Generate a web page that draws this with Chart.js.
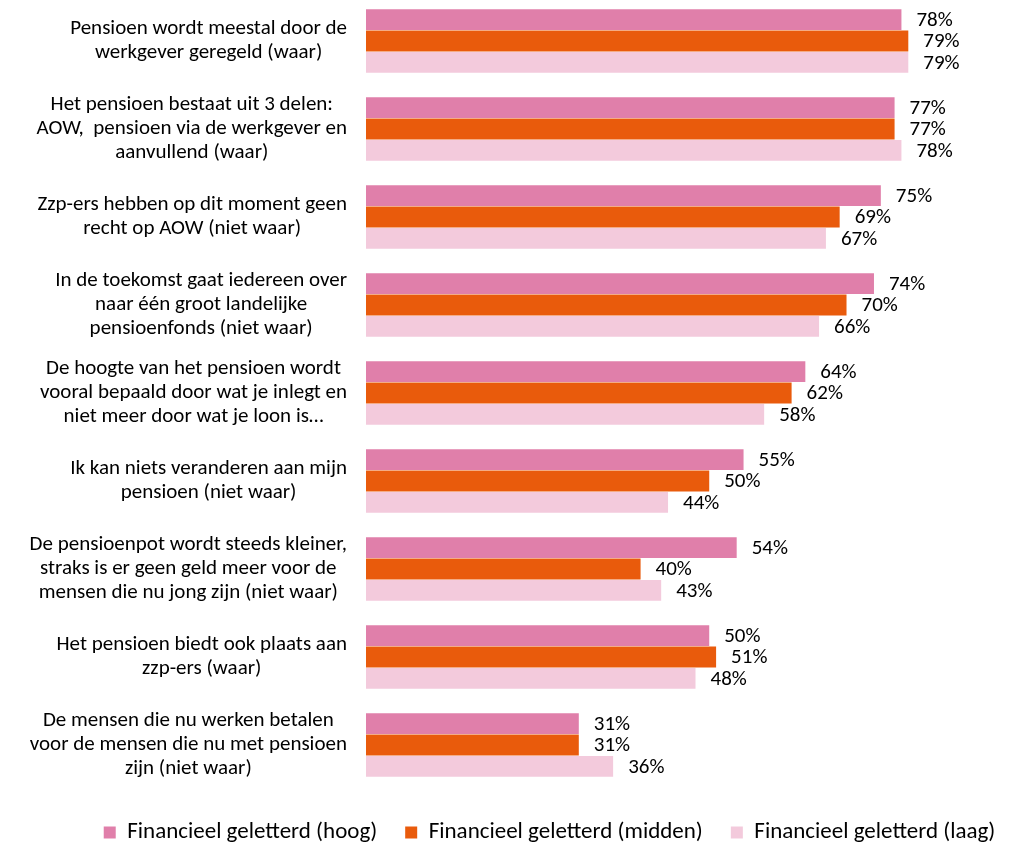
<!DOCTYPE html>
<html>
<head>
<meta charset="utf-8">
<script src="https://cdn.jsdelivr.net/npm/chart.js@4/dist/chart.umd.min.js"></script>
<style>
  html, body { margin: 0; padding: 0; background: #fff; overflow: hidden; }
  #wrap { width: 1025px; height: 857px; position: relative; margin-top: -3px; }
</style>
</head>
<body>
<div id="wrap"><canvas id="chart"></canvas></div>
<script>
// Stellingen (categorieën)
const categories = [
    ['Pensioen wordt meestal door de', 'werkgever geregeld (waar)'],
    ['Het pensioen bestaat uit 3 delen:', 'AOW,  pensioen via de werkgever en', 'aanvullend (waar)'],
    ['Zzp-ers hebben op dit moment geen', 'recht op AOW (niet waar)'],
    ['In de toekomst gaat iedereen over', 'naar één groot landelijke', 'pensioenfonds (niet waar)'],
    ['De hoogte van het pensioen wordt', 'vooral bepaald door wat je inlegt en', 'niet meer door wat je loon is…'],
    ['Ik kan niets veranderen aan mijn', 'pensioen (niet waar)'],
    ['De pensioenpot wordt steeds kleiner,', 'straks is er geen geld meer voor de', 'mensen die nu jong zijn (niet waar)'],
    ['Het pensioen biedt ook plaats aan', 'zzp-ers (waar)'],
    ['De mensen die nu werken betalen', 'voor de mensen die nu met pensioen', 'zijn (niet waar)']
];

const seriesNames = [
    'Financieel geletterd (hoog)',
    'Financieel geletterd (midden)',
    'Financieel geletterd (laag)'
];

const hoog   = [78, 77, 75, 74, 64, 55, 54, 50, 31];
const midden = [79, 77, 69, 70, 62, 50, 40, 51, 31];
const laag   = [79, 78, 67, 66, 58, 44, 43, 48, 36];

const kleuren = ['#E07FAA', '#E95B0C', '#F3CADC'];
const FONT = "Carlito, Lato, 'Open Sans', sans-serif";

// Labels links van de balken, per blok gecentreerd
const categoryLabels = {
    id: 'categoryLabels',
    afterDraw(chart) {
        const ctx = chart.ctx;
        const y = chart.scales.y;
        ctx.save();
        ctx.font = '21px ' + FONT;
        ctx.fillStyle = '#000';
        ctx.textAlign = 'center';
        ctx.textBaseline = 'middle';
        const lineH = 24;
        const right = 347;
        categories.forEach((lines, i) => {
            const cy = y.getPixelForValue(i);
            const w = Math.max(...lines.map(l => ctx.measureText(l).width));
            const cx = right - w / 2;
            const top = cy - (lines.length - 1) * lineH / 2;
            lines.forEach((l, j) => ctx.fillText(l, cx, top + j * lineH));
        });
        ctx.restore();
    }
};

// Percentages achter de balken
const valueLabels = {
    id: 'valueLabels',
    afterDatasetsDraw(chart) {
        const ctx = chart.ctx;
        ctx.save();
        ctx.font = '21px ' + FONT;
        ctx.fillStyle = '#000';
        ctx.textAlign = 'left';
        ctx.textBaseline = 'middle';
        chart.data.datasets.forEach((ds, di) => {
            chart.getDatasetMeta(di).data.forEach((bar, i) => {
                ctx.fillText(ds.data[i] + '%', bar.x + 15, bar.y + 1);
            });
        });
        ctx.restore();
    }
};

new Chart(document.getElementById('chart'), {
    type: 'bar',
    data: {
        labels: categories,
        datasets: [
            { label: seriesNames[0], data: hoog, backgroundColor: kleuren[0] },
            { label: seriesNames[1], data: midden, backgroundColor: kleuren[1] },
            { label: seriesNames[2], data: laag, backgroundColor: kleuren[2] }
        ]
    },
    options: {
        indexAxis: 'y',
        responsive: true,
        maintainAspectRatio: false,
        animation: false,
        layout: {
            padding: { left: 74, right: 0, top: 0, bottom: 0 }
        },
        datasets: {
            bar: {
                categoryPercentage: 0.73,
                barPercentage: 0.97
            }
        },
        plugins: {
            legend: {
                position: 'bottom',
                labels: {
                    font: { family: FONT, size: 23 },
                    color: '#000',
                    boxWidth: 12,
                    boxHeight: 12,
                    padding: 28
                }
            },
            tooltip: { enabled: false }
        },
        scales: {
            x: {
                min: 0,
                max: 96,
                grid: { display: false },
                border: { display: false },
                ticks: { display: false },
                afterFit(scale) { scale.height = 4; }
            },
            y: {
                grid: { display: false },
                border: { display: false },
                ticks: { display: false },
                afterFit(scale) { scale.width = 292; }
            }
        }
    },
    plugins: [categoryLabels, valueLabels]
});
</script>
</body>
</html>
